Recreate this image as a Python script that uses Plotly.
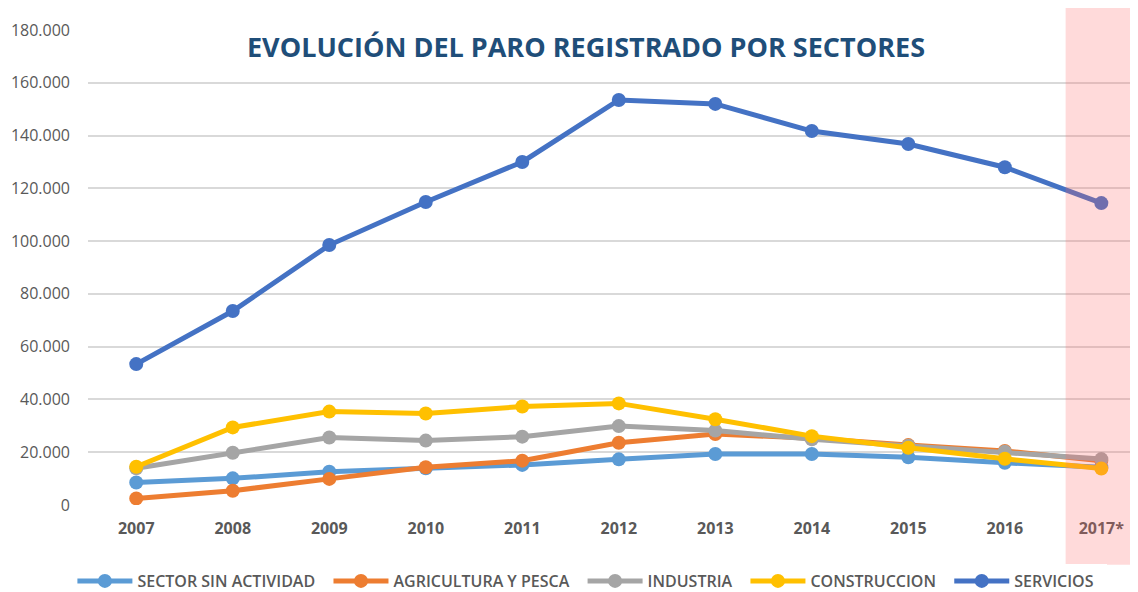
import plotly.graph_objects as go

years = ["2007", "2008", "2009", "2010", "2011", "2012", "2013", "2014", "2015", "2016", "2017*"]
sector_sin_actividad = [8500, 10100, 12600, 13900, 15200, 17300, 19300, 19300, 18100, 16000, 14300]
agricultura_pesca = [2500, 5400, 9900, 14300, 16800, 23600, 26900, 25300, 22700, 20500, 16800]
industria = [13900, 19800, 25600, 24400, 25900, 29900, 28200, 24900, 22500, 20200, 17400]
construccion = [14500, 29400, 35400, 34700, 37300, 38500, 32500, 26100, 21700, 17500, 13800]
servicios = [53400, 73500, 98500, 114800, 130000, 153500, 152000, 141700, 136800, 128000, 114400]

series = [
    ("SECTOR SIN ACTIVIDAD", sector_sin_actividad, "#5B9BD5"),
    ("AGRICULTURA Y PESCA", agricultura_pesca, "#ED7D31"),
    ("INDUSTRIA", industria, "#A5A5A5"),
    ("CONSTRUCCION", construccion, "#FFC000"),
    ("SERVICIOS", servicios, "#4472C4"),
]

fig = go.Figure()
for name, vals, col in series:
    fig.add_trace(go.Scatter(
        x=list(range(len(years))), y=vals, name=name + "\u00a0\u00a0", mode="lines+markers",
        line=dict(color=col, width=5), marker=dict(color=col, size=14),
    ))

fig.add_shape(type="rect", xref="x", yref="paper", x0=9.63, x1=11, y0=-0.126, y1=1.053,
              fillcolor="rgba(255,100,100,0.24)", line=dict(width=0), layer="above")

fig.add_annotation(text="<b>EVOLUCIÓN DEL PARO REGISTRADO POR SECTORES</b>", xref="paper", yref="paper",
                   x=0.474, y=0.966, yanchor="middle", showarrow=False,
                   font=dict(family="Open Sans", size=27, color="#1F4E79"))

fig.update_layout(
    width=1130, height=584,
    margin=dict(l=80, r=0, t=22, b=87, autoexpand=False),
    paper_bgcolor="white", plot_bgcolor="white",
    separators=",.",
    font=dict(family="Open Sans", color="#595959"),
    showlegend=True,
    legend=dict(orientation="h", x=0.478, xanchor="center", y=-0.16, yanchor="middle",
                font=dict(family="Open Sans", size=16, color="#595959", weight=600),
                itemwidth=55, traceorder="normal"),
)
fig.update_xaxes(
    range=[-0.5, 10.38], tickmode="array", tickvals=list(range(len(years))),
    ticktext=["<b>%s</b>" % y for y in years], showgrid=False, zeroline=False,
    showline=False, tickfont=dict(size=16, color="#595959"), ticklabelstandoff=12,
)
fig.update_yaxes(
    range=[0, 180000], dtick=20000, tickformat=",.0f", showgrid=True,
    gridcolor="#D9D9D9", gridwidth=1.5, zeroline=False, showline=False,
    tickfont=dict(size=16, color="#595959"), ticklabelstandoff=17,
)

fig.write_html("out.html")
